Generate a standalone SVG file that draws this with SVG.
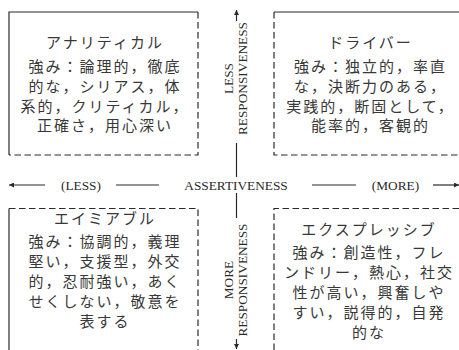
<svg xmlns="http://www.w3.org/2000/svg" width="459" height="350" viewBox="0 0 459 350">
<style>
.solid{fill:none;stroke:#2a2a2a;stroke-width:1.2}
.dash{fill:none;stroke:#2a2a2a;stroke-width:1.2;stroke-dasharray:6.5 3.5}
.axis{fill:none;stroke:#2a2a2a;stroke-width:1.2}
.jp{font-family:"Noto Sans CJK JP","Noto Sans CJK SC",sans-serif;font-size:15px;letter-spacing:2px;fill:#383838;text-anchor:middle}
.en{font-family:"Liberation Serif",serif;font-size:13.3px;fill:#2a2a2a;text-anchor:middle}
</style>
<defs>
<marker id="ah" viewBox="0 0 10 10" refX="10" refY="5" markerWidth="7" markerHeight="5" markerUnits="userSpaceOnUse" orient="auto">
<path d="M0,0 L10,5 L0,10 z" fill="#2a2a2a"/>
</marker>
</defs>
<rect width="459" height="350" fill="#fff"/>

<g id="analytical">
<path class="solid" d="M9,155 V12 H198"/>
<path class="dash" d="M198,12 V155 H9"/>
<text class="jp"><tspan x="105" y="48">アナリティカル</tspan><tspan x="105" y="72">強み：論理的，徹底</tspan><tspan x="105" y="91.8">的な，シリアス，体</tspan><tspan x="105" y="111.6">系的，クリティカル，</tspan><tspan x="105" y="131.4">正確さ，用心深い</tspan></text>
</g>

<g id="driver">
<path class="solid" d="M274,12 H466"/>
<path class="dash" d="M274,12 V155 H466"/>
<text class="jp"><tspan x="370.5" y="48">ドライバー</tspan><tspan x="370.5" y="72">強み：独立的，率直</tspan><tspan x="370.5" y="91.8">な，決断力のある，</tspan><tspan x="370.5" y="111.6">実践的，断固として，</tspan><tspan x="370.5" y="131.4">能率的，客観的</tspan></text>
</g>

<g id="amiable">
<path class="solid" d="M9,208.5 V360"/>
<path class="dash" d="M9,208.5 H198 V360"/>
<text class="jp"><tspan x="105" y="224.3">エイミアブル</tspan><tspan x="105" y="247.3">強み：協調的，義理</tspan><tspan x="105" y="267.3">堅い，支援型，外交</tspan><tspan x="105" y="287.3">的，忍耐強い，あく</tspan><tspan x="105" y="307.3">せくしない，敬意を</tspan><tspan x="105" y="327.3">表する</tspan></text>
</g>

<g id="expressive">
<path class="dash" d="M274,360 V208.5 H466"/>
<text class="jp"><tspan x="369" y="234.5">エクスプレッシブ</tspan><tspan x="369" y="257.5">強み：創造性，フレ</tspan><tspan x="369" y="277.5">ンドリー，熱心，社交</tspan><tspan x="369" y="297.5">性が高い，興奮しや</tspan><tspan x="369" y="317.5">すい，説得的，自発</tspan><tspan x="369" y="337.5">的な</tspan></text>
</g>

<g id="connectors">
<line class="axis" x1="236.5" y1="21" x2="236.5" y2="10" marker-end="url(#ah)"/>
<line class="axis" x1="236.5" y1="143" x2="236.5" y2="177"/>
<line class="axis" x1="236.5" y1="193" x2="236.5" y2="218"/>
<line class="axis" x1="236.5" y1="339" x2="236.5" y2="349" marker-end="url(#ah)"/>
<line class="axis" x1="45" y1="185" x2="9" y2="185" marker-end="url(#ah)"/>
<line class="axis" x1="116" y1="185" x2="159" y2="185"/>
<line class="axis" x1="312" y1="185" x2="356" y2="185"/>
<line class="axis" x1="433" y1="185" x2="459" y2="185" marker-end="url(#ah)"/>
</g>

<g id="axis-labels">
<text class="en" x="236" y="189.5">ASSERTIVENESS</text>
<text class="en" x="81" y="189.5">(LESS)</text>
<text class="en" x="395.5" y="189.5">(MORE)</text>
<text class="en" transform="translate(236,78.5) rotate(-90)"><tspan x="0" y="-2.7">LESS</tspan><tspan x="0" y="10.6">RESPONSIVENESS</tspan></text>
<text class="en" transform="translate(236,280) rotate(-90)"><tspan x="0" y="-2.7">MORE</tspan><tspan x="0" y="10.6">RESPONSIVENESS</tspan></text>
</g>
</svg>
